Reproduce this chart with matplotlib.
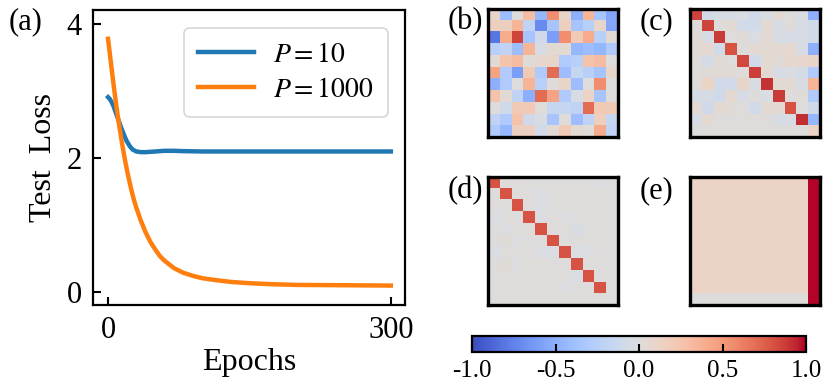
import matplotlib
matplotlib.use("Agg")
import matplotlib.pyplot as plt
import numpy as np

plt.rcParams["font.family"] = ["Liberation Serif", "DejaVu Serif"]
plt.rcParams["mathtext.fontset"] = "stix"

# ---- panel (a): test loss curves ----
epochs_p10 = [0, 2, 4, 6, 8, 10, 12, 14, 16, 18, 20, 23, 26, 30, 35, 40, 45, 50, 60, 70, 80,
              100, 150, 200, 250, 300]
loss_p10 = [2.91, 2.88, 2.83, 2.77, 2.69, 2.61, 2.53, 2.45, 2.38, 2.31, 2.25, 2.18, 2.13,
            2.10, 2.09, 2.09, 2.095, 2.10, 2.11, 2.11, 2.105, 2.10, 2.10, 2.10, 2.10, 2.10]

epochs_p1000 = [0, 3, 6, 9, 12, 15, 18, 21, 24, 27, 30, 35, 40, 45, 50, 55, 60, 70, 80, 90,
                100, 115, 130, 150, 175, 200, 250, 300]
loss_p1000 = [3.78, 3.43, 3.08, 2.76, 2.47, 2.21, 1.97, 1.76, 1.57, 1.40, 1.26, 1.06, 0.89,
              0.75, 0.64, 0.54, 0.47, 0.36, 0.29, 0.245, 0.21, 0.18, 0.155, 0.135, 0.12,
              0.11, 0.105, 0.10]

series_labels = [r"$P = 10$", r"$P = 1000$"]
series_colors = ["#1f77b4", "#ff7f0e"]

# ---- panels (b)-(e): 11x11 correlation-like matrices ----
mat_b = [
    [0.10, -0.40, 0.00, 0.30, -0.45, 0.55, 0.10, -0.50, 0.35, -0.35, -0.55],
    [0.15, 0.15, 0.35, -0.20, -0.70, -0.35, 0.15, -0.35, -0.25, 0.10, -0.55],
    [-0.80, 0.40, 0.85, -0.35, -0.10, -0.60, 0.55, 0.20, 0.40, -0.25, 0.05],
    [-0.25, -0.20, -0.40, 0.35, -0.05, 0.05, 0.05, -0.45, -0.40, -0.45, -0.30],
    [0.05, 0.25, 0.30, 0.02, 0.08, 0.10, -0.30, -0.25, 0.25, 0.30, 0.00],
    [0.45, -0.30, -0.60, 0.20, -0.30, 0.70, -0.40, -0.15, -0.25, -0.35, 0.10],
    [-0.50, -0.30, 0.00, 0.35, -0.25, 0.02, 0.10, -0.40, 0.00, 0.55, 0.00],
    [0.25, 0.05, -0.20, -0.50, 0.70, 0.45, -0.30, -0.05, 0.12, -0.35, 0.00],
    [0.00, -0.10, 0.20, 0.20, 0.02, -0.15, -0.15, -0.20, 0.70, 0.20, 0.20],
    [-0.20, -0.30, 0.25, -0.10, -0.05, -0.35, 0.02, -0.40, -0.20, 0.15, -0.15],
    [-0.30, -0.45, 0.15, 0.15, -0.08, 0.05, 0.20, 0.05, 0.02, 0.40, -0.20],
]

mat_c = [
    [0.85, -0.08, -0.05, -0.05, -0.03, -0.08, -0.03, 0.05, 0.00, -0.03, -0.50],
    [0.00, 0.85, 0.00, 0.05, -0.08, -0.08, 0.05, -0.05, 0.02, -0.05, -0.08],
    [0.03, -0.05, 0.88, 0.00, 0.03, -0.03, 0.05, -0.05, -0.05, -0.05, -0.08],
    [0.03, 0.07, -0.08, 0.80, 0.00, 0.05, 0.05, 0.05, 0.07, -0.05, -0.50],
    [0.00, -0.06, 0.03, 0.00, 0.83, -0.08, 0.05, 0.03, 0.08, 0.08, 0.10],
    [0.02, 0.03, 0.03, 0.03, 0.02, 0.86, 0.05, -0.05, -0.03, -0.07, -0.30],
    [0.02, 0.12, -0.08, -0.08, 0.10, -0.05, 0.90, 0.05, 0.05, -0.05, 0.35],
    [-0.06, -0.06, -0.10, 0.07, -0.05, 0.00, -0.03, 0.88, 0.00, 0.02, -0.30],
    [0.05, -0.10, 0.05, 0.03, 0.00, -0.08, 0.05, 0.05, 0.80, 0.00, -0.10],
    [-0.05, 0.07, 0.00, 0.00, 0.00, 0.02, 0.00, -0.05, -0.05, 0.92, -0.45],
    [0.00, 0.00, 0.00, 0.00, 0.00, 0.00, 0.00, 0.00, 0.00, 0.00, 0.12],
]

mat_d = [
    [0.80, 0.01, 0.01, 0.00, 0.00, 0.00, 0.00, 0.00, 0.00, -0.02, 0.00],
    [0.00, 0.80, 0.00, 0.00, -0.02, 0.00, 0.00, 0.00, 0.00, 0.00, 0.00],
    [0.01, 0.00, 0.80, 0.00, -0.02, 0.00, 0.00, 0.00, 0.00, 0.00, 0.00],
    [-0.03, 0.00, 0.00, 0.80, -0.02, 0.00, -0.02, 0.00, 0.00, 0.00, 0.00],
    [0.00, -0.02, 0.00, 0.00, 0.80, 0.00, 0.00, -0.04, 0.00, 0.00, 0.00],
    [0.00, 0.03, -0.02, 0.00, 0.00, 0.80, 0.00, 0.00, 0.00, 0.00, 0.00],
    [-0.03, 0.00, 0.00, 0.00, -0.03, -0.03, 0.80, -0.03, -0.02, 0.00, 0.00],
    [0.00, 0.03, -0.02, 0.00, 0.02, 0.00, 0.00, 0.80, 0.00, 0.00, 0.00],
    [0.00, 0.00, 0.00, 0.00, 0.00, 0.00, 0.00, -0.03, 0.80, 0.00, 0.00],
    [0.00, 0.00, 0.00, 0.00, 0.00, 0.00, -0.02, 0.00, 0.00, 0.80, 0.00],
    [0.00, 0.00, 0.00, 0.00, 0.00, 0.00, 0.00, 0.00, 0.00, 0.00, 0.00],
]

mat_e = [[0.12] * 10 + [1.0] for _ in range(10)] + [[0.0] * 10 + [1.0]]

panel_labels = ["(a)", "(b)", "(c)", "(d)", "(e)"]
cbar_ticks = [-1.0, -0.5, 0.0, 0.5, 1.0]
cbar_ticklabels = ["-1.0", "-0.5", "0.0", "0.5", "1.0"]

fig = plt.figure(figsize=(8.3, 3.91), dpi=100)

# panel (a)
ax = fig.add_axes([0.112, 0.2199, 0.3759, 0.7545])
ax.plot(epochs_p10, loss_p10, color=series_colors[0], lw=3.2, label=series_labels[0])
ax.plot(epochs_p1000, loss_p1000, color=series_colors[1], lw=3.2, label=series_labels[1])
ax.set_xlim(-16, 315)
ax.set_ylim(-0.19, 4.21)
ax.set_xticks([0, 300])
ax.set_yticks([0, 2, 4])
ax.tick_params(direction="in", length=6, width=1.5, labelsize=22, pad=8)
for sp in ax.spines.values():
    sp.set_linewidth(1.6)
ax.set_xlabel("Epochs", fontsize=23, labelpad=2)
ax.set_ylabel("Test  Loss", fontsize=23, labelpad=6)
leg = ax.legend(loc="upper right", fontsize=20, handlelength=2.0, borderpad=0.5,
                labelspacing=0.35, handletextpad=0.7, bbox_to_anchor=(0.99, 0.985))
leg.get_frame().set_linewidth(1.2)
for line in leg.get_lines():
    line.set_linewidth(3.2)

# heatmaps
cmap = plt.get_cmap("coolwarm")
positions = [
    [0.588, 0.6496, 0.1566, 0.3274],
    [0.8313, 0.6496, 0.1566, 0.3274],
    [0.588, 0.2199, 0.1566, 0.3274],
    [0.8313, 0.2199, 0.1566, 0.3274],
]
im = None
for pos, mat in zip(positions, [mat_b, mat_c, mat_d, mat_e]):
    hax = fig.add_axes(pos)
    im = hax.imshow(np.array(mat), cmap=cmap, vmin=-1, vmax=1, aspect="auto",
                    interpolation="nearest")
    hax.set_xticks([])
    hax.set_yticks([])
    for sp in hax.spines.values():
        sp.set_linewidth(2.4)

# panel labels
label_xy = [(0.010, 0.945), (0.539, 0.945), (0.771, 0.945), (0.539, 0.512), (0.771, 0.512)]
for lab, (x, y) in zip(panel_labels, label_xy):
    fig.text(x, y, lab, fontsize=22, ha="left", va="center")

# colorbar
cax = fig.add_axes([0.5687, 0.0997, 0.4024, 0.0409])
cb = fig.colorbar(im, cax=cax, orientation="horizontal", ticks=cbar_ticks)
cb.ax.set_xticklabels(cbar_ticklabels)
cb.ax.tick_params(direction="in", length=6, width=1.5, labelsize=18, pad=6)
cb.outline.set_linewidth(1.6)

fig.savefig("out.png", dpi=100)
